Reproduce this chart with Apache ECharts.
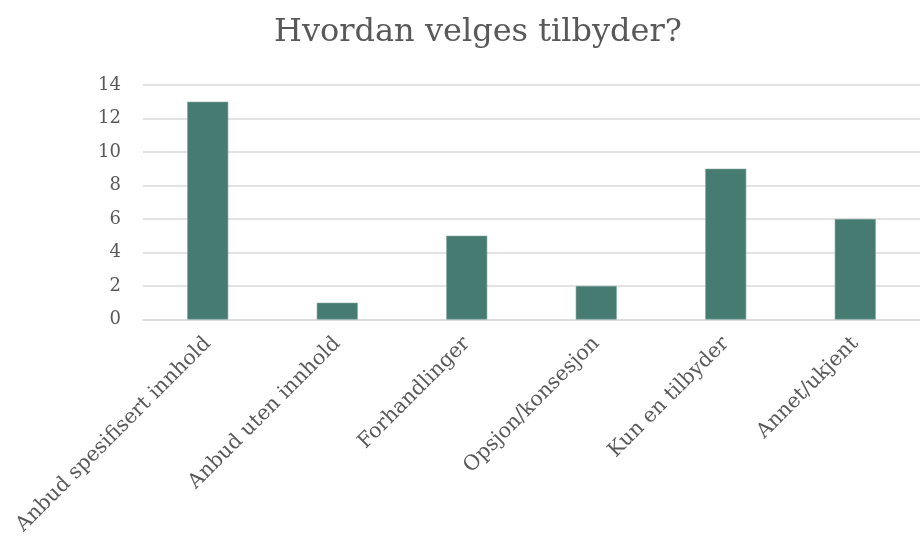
<!DOCTYPE html>
<html><head><meta charset="utf-8">
<script src="https://cdn.jsdelivr.net/npm/echarts@6/dist/echarts.min.js"></script>
<style>html,body{margin:0;padding:0;background:#fff}#c{width:920px;height:542px}</style>
</head><body><div id="c"></div>
<script>
const categories = ["Anbud spesifisert innhold","Anbud uten innhold","Forhandlinger","Opsjon/konsesjon","Kun en tilbyder","Annet/ukjent"];
const values = [13, 1, 5, 2, 9, 6];
const titleText = "Hvordan velges tilbyder?";
const font = "Georgia, 'DejaVu Serif', serif";
const chart = echarts.init(document.getElementById('c'));
chart.setOption({
  animation: false,
  title: { text: titleText, left: 274, top: 17, padding: 0,
    textStyle: { fontFamily: font, fontSize: 32, fontWeight: 'normal', color: '#595959' } },
  grid: { left: 143, top: 85, width: 785, height: 234.5, containLabel: false },
  xAxis: { type: 'category', data: categories,
    axisLine: { lineStyle: { color: '#d9d9d9', width: 1.5 } }, axisTick: { show: false },
    axisLabel: { rotate: 45, interval: 0, margin: 21, fontFamily: font, fontSize: 20.5, color: '#595959' } },
  yAxis: { type: 'value', min: 0, max: 14, interval: 2,
    axisLine: { show: false }, axisTick: { show: false },
    splitLine: { lineStyle: { color: '#d9d9d9', width: 1.5 } },
    axisLabel: { margin: 22, fontFamily: font, fontSize: 18, color: '#595959', lineHeight: 22, verticalAlign: 'middle' } },
  series: [{ type: 'bar', data: values, barWidth: 41,
    itemStyle: { color: '#457b71', borderColor: '#7ea59d', borderWidth: 0.6 } }]
});
</script></body></html>
